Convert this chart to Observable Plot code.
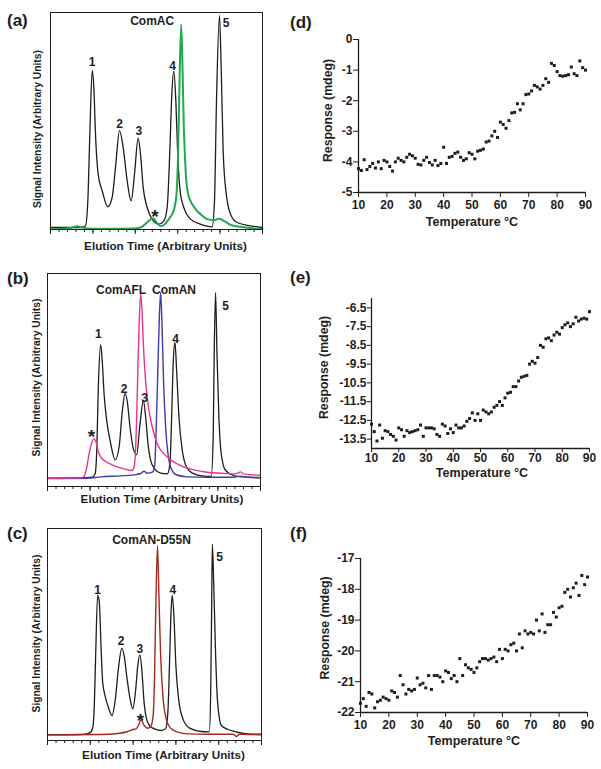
<!DOCTYPE html>
<html><head><meta charset="utf-8">
<script src="https://cdn.jsdelivr.net/npm/d3@7"></script>
<script src="https://cdn.jsdelivr.net/npm/@observablehq/plot@0.6"></script>
<style>
body{margin:0;background:#fff;}
#fig{position:relative;width:601px;height:769px;overflow:hidden;background:#fff;font-family:"Liberation Sans",Arial,Helvetica,sans-serif;}
.panel{position:absolute;}
.letter{position:absolute;font-weight:bold;font-size:17px;line-height:17px;color:#1e1e1e;white-space:nowrap;}
</style></head><body><div id="fig"></div>
<script>
// ---------- Chromatograms (elution time, signal intensity; arbitrary units) ----------
const aBlack = [[0,6],[50,6],[90,6],[105,11],[112,86],[118,286],[125,476],[130,426],[135,286],[143,166],[155,116],[172,68],[185,96],[195,186],[207,296],[218,246],[230,146],[242,86],[252,166],[263,274],[270,226],[278,126],[290,66],[305,31],[325,16],[340,26],[350,66],[358,236],[364,406],[370,474],[376,386],[382,216],[390,106],[400,66],[420,31],[450,16],[485,8],[492,86],[498,386],[507,641],[512,486],[518,236],[525,126],[540,46],[560,21],[600,11],[636,6]];
const aComAC = [[0,1],[50,3],[65,6],[80,10],[95,6],[110,3],[150,2],[250,3],[270,6],[282,14],[295,26],[307,34],[315,26],[322,16],[333,10],[345,18],[355,31],[365,46],[372,66],[378,106],[383,236],[387,436],[392,614],[396,486],[400,306],[406,166],[413,106],[420,86],[435,61],[450,46],[470,31],[490,28],[505,32],[520,26],[540,14],[570,8],[610,3],[636,2]];

const bBlack = [[0,25],[100,26],[135,28],[143,38],[148,108],[153,308],[160,426],[165,368],[170,278],[178,198],[190,128],[203,80],[215,118],[225,228],[233,280],[240,253],[248,178],[258,113],[268,96],[278,188],[288,258],[295,208],[302,128],[310,78],[322,53],[340,40],[360,38],[368,68],[373,208],[378,378],[383,433],[388,348],[395,208],[405,108],[418,58],[435,40],[470,31],[492,30],[498,158],[501,408],[505,583],[509,408],[515,208],[522,98],[535,48],[560,33],[600,28],[640,26]];
const bComAFL = [[0,25],[100,26],[110,30],[118,58],[125,98],[132,128],[140,143],[146,133],[152,108],[160,88],[175,75],[200,63],[230,53],[253,48],[260,58],[265,118],[270,288],[275,478],[280,580],[284,528],[288,428],[294,328],[302,248],[315,178],[330,128],[350,98],[370,80],[400,63],[440,50],[480,43],[520,40],[560,38],[572,40],[580,44],[588,38],[640,34]];
const bComAN = [[0,24],[120,25],[160,29],[220,32],[260,35],[280,39],[290,46],[300,40],[315,43],[322,63],[327,188],[331,328],[336,508],[340,583],[344,488],[349,308],[355,178],[362,98],[372,53],[385,36],[420,29],[480,28],[560,28],[580,31],[600,28],[640,27]];

const cBlack = [[0,17],[100,18],[125,22],[135,37],[140,105],[144,255],[150,437],[155,415],[160,285],[165,175],[172,135],[182,100],[193,75],[203,125],[212,215],[222,277],[230,250],[238,185],[247,125],[255,95],[263,145],[270,225],[276,257],[282,215],[288,125],[295,70],[305,45],[320,35],[340,30],[353,35],[360,85],[365,235],[369,375],[373,437],[378,375],[384,225],[392,125],[405,65],[425,37],[460,27],[484,26],[488,145],[491,405],[493,590],[497,475],[502,285],[508,125],[520,45],[540,33],[560,27],[600,20],[640,19]];
const cComAND55N = [[0,17],[160,18],[210,21],[240,27],[255,33],[265,35],[272,45],[280,62],[288,47],[300,37],[310,45],[316,75],[320,185],[324,405],[329,585],[333,445],[338,265],[345,135],[355,65],[370,35],[390,25],[420,20],[480,19],[540,19],[555,19],[565,12],[575,19],[640,17]];

// peak annotations: [text, elution time, intensity]
const notesA = [["1",125,500],["2",207,315],["3",265,294],["4",366,489],["5",527,619],["ComAC",305,624]];
const starsA = [[313,54]];
const notesB = [["1",153,458],["2",230,293],["3",292,265],["4",385,443],["5",535,543],["ComAFL",221,590],["ComAN",380,590]];
const starsB = [[132,163]];
const notesC = [["1",150,452],["2",220,297],["3",276,273],["4",375,453],["5",515,550],["ComAN-D55N",311,601]];
const starsC = [[278,75]];

// ---------- Thermal melts (CD response vs temperature) ----------
const temps = [10,11,12,13,14,15,16,17,18,19,
  20,21,22,23,24,25,26,27,28,29,
  30,31,32,33,34,35,36,37,38,39,
  40,41,42,43,44,45,46,47,48,49,
  50,51,52,53,54,55,56,57,58,59,
  60,61,62,63,64,65,66,67,68,69,
  70,71,72,73,74,75,76,77,78,79,
  80,81,82,83,84,85,86,87,88,89,90];
const respD = [-4.22,-4.28,-3.93,-4.25,-4.15,-4.05,-4.2,-4.0,-4.22,-3.95,
  -4.0,-4.15,-4.3,-4.0,-3.88,-3.95,-4.0,-3.85,-3.75,-3.8,
  -3.88,-4.08,-4.1,-3.95,-3.85,-4.02,-4.1,-3.95,-4.12,-4.05,
  -3.52,-4.05,-3.85,-3.82,-3.72,-3.68,-3.85,-3.95,-3.9,-3.7,
  -3.75,-3.9,-3.65,-3.62,-3.58,-3.35,-3.32,-3.15,-3.0,-3.2,
  -2.7,-2.78,-2.9,-2.65,-2.4,-2.38,-2.1,-2.3,-2.1,-1.8,
  -1.78,-1.68,-1.5,-1.55,-1.62,-1.5,-1.28,-1.4,-0.78,-0.85,
  -1.05,-1.18,-1.2,-1.18,-1.15,-0.9,-1.12,-1.18,-0.7,-0.92,-1.0];
const respE = [-12.7,-13.1,-13.6,-12.75,-13.45,-13.05,-13.1,-13.25,-13.35,-13.55,
  -12.9,-13.0,-13.35,-13.05,-13.15,-13.1,-13.05,-13.0,-12.75,-13.35,
  -12.9,-12.9,-12.9,-12.95,-13.25,-13.35,-12.7,-12.8,-13.2,-12.95,
  -13.15,-12.75,-12.9,-12.9,-12.8,-12.55,-12.4,-12.1,-12.5,-12.15,
  -12.5,-11.95,-12.05,-12.15,-12.05,-11.8,-11.7,-11.5,-11.7,-11.3,
  -11.05,-11.0,-10.7,-10.7,-10.4,-10.2,-10.15,-10.1,-9.5,-9.35,
  -9.45,-9.15,-8.5,-8.6,-8.15,-8.1,-8.25,-7.95,-7.8,-7.9,
  -7.55,-7.4,-7.3,-7.5,-7.35,-7.0,-7.2,-7.1,-7.05,-7.1,-6.7];
const respF = [-21.7,-21.55,-21.8,-21.35,-21.4,-21.85,-21.65,-21.6,-21.5,-21.55,
  -21.6,-21.3,-21.35,-21.5,-20.8,-21.1,-21.4,-21.25,-21.3,-21.25,
  -20.88,-21.1,-21.05,-21.2,-20.8,-21.25,-20.8,-20.8,-20.85,-21.0,
  -20.65,-20.7,-20.9,-20.8,-21.0,-20.25,-20.8,-20.45,-20.55,-20.6,
  -20.7,-20.55,-20.35,-20.25,-20.25,-20.3,-20.25,-20.2,-20.35,-19.95,
  -20.25,-19.95,-20.0,-19.8,-19.75,-20.0,-19.45,-19.9,-19.35,-19.45,
  -19.4,-19.45,-19.0,-19.35,-18.8,-19.4,-19.15,-19.15,-18.75,-18.9,
  -18.6,-18.55,-18.1,-18.0,-18.25,-17.95,-17.8,-18.2,-17.55,-17.85,-17.6];
const tempTicks = [10,20,30,40,50,60,70,80,90];
const ticksD = [0,-1,-2,-3,-4,-5];
const ticksE = [-6.5,-7.5,-8.5,-9.5,-10.5,-11.5,-12.5,-13.5];
const ticksF = [-17,-18,-19,-20,-21,-22];

// ---------- drawing ----------
const FONT = "'Liberation Sans', Arial, Helvetica, sans-serif";
const INK = "#1e1e1e";
const fig = document.getElementById("fig");
const baseStyle = {fontFamily: FONT, fontSize: "12px", fontWeight: "bold", color: INK, background: "transparent", overflow: "visible"};

function place(node, left, top) {
  const d = document.createElement("div");
  d.className = "panel";
  d.style.left = left + "px"; d.style.top = top + "px";
  d.appendChild(node); fig.appendChild(d);
}
function letter(txt, left, top) {
  const s = document.createElement("div");
  s.className = "letter"; s.textContent = txt;
  s.style.left = left + "px"; s.style.top = top + "px";
  fig.appendChild(s);
}

function chrom(p) {
  const xt = d3.range(26).map(i => i * p.xmax / 25);
  const xMajor = xt.filter((d, i) => i % 5 === 0);
  const marks = [
    Plot.axisX({ticks: xt, tickSize: 3, tickFormat: () => "", label: null}),
    Plot.axisX({ticks: xMajor, tickSize: 5, tickFormat: () => "", label: null})
  ];
  for (const s of p.series) {
    marks.push(Plot.line(s.data.map(([t, v]) => ({t, v})), {x: "t", y: "v", stroke: s.color, strokeWidth: s.width, curve: "monotone-x"}));
  }
  marks.push(Plot.frame({stroke: INK, strokeWidth: 1}));
  marks.push(Plot.text(p.notes, {x: d => d[1], y: d => d[2], text: d => d[0], fontSize: 12, fontWeight: "bold", fill: INK}));
  marks.push(Plot.text(p.stars, {x: d => d[0], y: d => d[1], text: () => "*", fontSize: 19, fontWeight: "bold", fill: INK, dy: 5}));
  marks.push(Plot.text(["Elution Time (Arbitrary Units)"], {text: d => d, frameAnchor: "bottom", lineAnchor: "bottom", textAnchor: "middle", dx: p.xdx, dy: p.xdy, fontSize: 11.7, fontWeight: "bold", fill: INK}));
  marks.push(Plot.text(["Signal Intensity (Arbitrary Units)"], {text: d => d, frameAnchor: "left", rotate: -90, lineAnchor: "top", textAnchor: "middle", dx: p.ydx, dy: p.ydy, fontSize: 10.3, fontWeight: "bold", fill: INK}));
  return Plot.plot({
    width: 280, height: p.h,
    marginLeft: p.ml, marginTop: p.mt, marginRight: p.mr, marginBottom: p.mb,
    x: {domain: [0, p.xmax]}, y: {domain: [0, p.ymax], axis: null},
    style: baseStyle, marks
  });
}

function melt(p) {
  const data = temps.map((T, i) => ({T, R: p.values[i]}));
  return Plot.plot({
    width: 301, height: p.h,
    marginLeft: p.ml, marginTop: p.mt, marginRight: p.mr, marginBottom: p.mb,
    x: {domain: [10, 90]}, y: {domain: p.ydom},
    style: baseStyle,
    marks: [
      Plot.axisX({ticks: tempTicks, tickSize: p.ts, tickPadding: p.tpx, tickFormat: d => String(d), label: null, fontSize: 12, fontWeight: "bold"}),
      Plot.axisY({ticks: p.yTicks, tickSize: p.ts, tickPadding: 1, tickFormat: p.fmt, label: null, fontSize: 12, fontWeight: "bold"}),
      Plot.ruleX([10], {stroke: INK, strokeWidth: 1.3}),
      Plot.ruleY([p.ydom[0]], {stroke: INK, strokeWidth: 1.3}),
      Plot.dot(data, {x: "T", y: "R", symbol: "square", r: 1.7, fill: INK}),
      Plot.text(["Temperature °C"], {text: d => d, frameAnchor: "bottom", lineAnchor: "bottom", textAnchor: "middle", dx: p.xdx, dy: p.xdy, fontSize: 12.5, fontWeight: "bold", fill: INK}),
      Plot.text(["Response (mdeg)"], {text: d => d, frameAnchor: "left", rotate: -90, lineAnchor: "top", textAnchor: "middle", dx: p.ydx, dy: p.ydy, fontSize: 12.3, fontWeight: "bold", fill: INK})
    ]
  });
}

const GREEN = "#22a84e", PINK = "#e8358a", BLUE = "#3d3dab", RED = "#a3281f";

place(chrom({h: 255, ml: 50, mt: 12, mr: 18, mb: 26, xmax: 636, ymax: 650,
  series: [{data: aBlack, color: INK, width: 1.3}, {data: aComAC, color: GREEN, width: 2}],
  notes: notesA, stars: starsA, xdx: 9, xdy: 20.5, ydx: -16.5, ydy: 8}), 0, 0);
place(chrom({h: 255, ml: 47, mt: 23, mr: 20, mb: 19, xmax: 640, ymax: 640,
  series: [{data: bBlack, color: INK, width: 1.3}, {data: bComAN, color: BLUE, width: 1.4}, {data: bComAFL, color: PINK, width: 1.4}],
  notes: notesB, stars: starsB, xdx: 8, xdy: 16, ydx: -15, ydy: -2.5}), 0, 250);
place(chrom({h: 264, ml: 47, mt: 23, mr: 19, mb: 29, xmax: 640, ymax: 637,
  series: [{data: cBlack, color: INK, width: 1.3}, {data: cComAND55N, color: RED, width: 1.4}],
  notes: notesC, stars: starsC, xdx: 9, xdy: 18, ydx: -15, ydy: -1}), 0, 505);

place(melt({h: 250, ml: 58, mt: 39, mr: 16, mb: 58, ydom: [-5, 0], yTicks: ticksD, fmt: d => String(d), values: respD,
  ts: 5, tpx: 3, xdx: 0, xdy: 33, ydx: -35, ydy: -5.5}), 300, 0);
place(melt({h: 255, ml: 71, mt: 48, mr: 12, mb: 57, ydom: [-14, -6], yTicks: ticksE, fmt: d => d.toFixed(1), values: respE,
  ts: 4, tpx: 1, xdx: 1.5, xdy: 28.5, ydx: -52, ydy: -6}), 300, 250);
place(melt({h: 264, ml: 60, mt: 53, mr: 14, mb: 57, ydom: [-22, -17], yTicks: ticksF, fmt: d => String(d), values: respF,
  ts: 5, tpx: 3, xdx: 0, xdy: 32, ydx: -40, ydy: -7.5}), 300, 505);

letter("(a)", 7, 11.6);
letter("(b)", 7, 269.6);
letter("(c)", 7, 524.6);
letter("(d)", 290, 13.6);
letter("(e)", 290, 268.6);
letter("(f)", 290, 524.6);
</script></body></html>
